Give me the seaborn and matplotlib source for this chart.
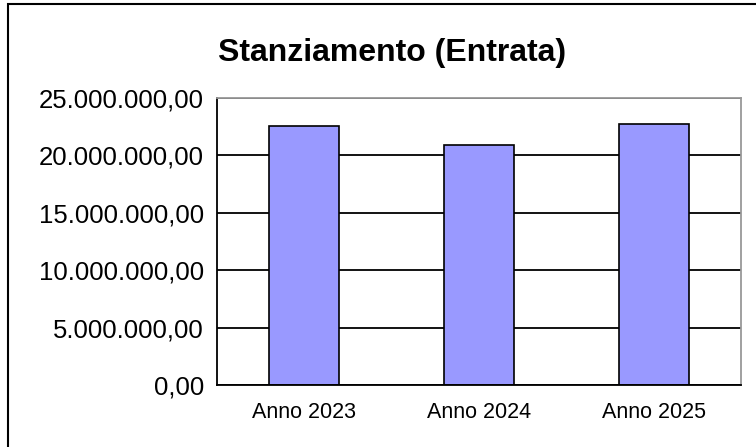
import numpy as np
import pandas as pd
import seaborn as sns
import matplotlib.pyplot as plt
from matplotlib.patches import Rectangle
from matplotlib.ticker import FuncFormatter, FixedLocator

#
# data
#

anni = ["Anno 2023", "Anno 2024", "Anno 2025"]
stanziamento = [22_550_000, 20_870_000, 22_730_000]
y_ticks = [0, 5_000_000, 10_000_000, 15_000_000, 20_000_000, 25_000_000]

df = pd.DataFrame({"anno": anni, "valore": stanziamento})

sns.set_style("white")
plt.rcParams['font.family'] = ['Liberation Sans', 'DejaVu Sans']
plt.rcParams['text.color'] = "black"
plt.rcParams['xtick.color'] = "black"
plt.rcParams['ytick.color'] = "black"
plt.rcParams['axes.labelcolor'] = "black"


def it_format(v, pos=None):
    # 25000000 -> 25.000.000,00
    s = f"{v:,.2f}"
    return s.replace(",", "X").replace(".", ",").replace("X", ".")


fig = plt.figure(figsize=(7.56, 4.47), dpi=100)
ax = fig.add_axes([0.2864, 0.1376, 0.6944, 0.6432])

ax.yaxis.grid(True, color="black", linewidth=1.3)
ax.set_axisbelow(True)

sns.barplot(data=df, x="anno", y="valore", color="#9999FF", saturation=1,
            width=0.40, edgecolor="black", linewidth=1.2, ax=ax)

ax.set_ylim(0, 25_000_000)
ax.set_xlim(-0.5, 2.5)
ax.set_yticks(y_ticks)
ax.yaxis.set_major_formatter(FuncFormatter(it_format))
ax.set_xlabel("")
ax.set_ylabel("")

# x ticks sit between categories, labels centred under bars
ax.xaxis.set_major_locator(FixedLocator([-0.5, 0.5, 1.5, 2.5]))
ax.xaxis.set_major_formatter(plt.NullFormatter())
ax.xaxis.set_minor_locator(FixedLocator([0, 1, 2]))
ax.set_xticklabels(anni, minor=True)
ax.tick_params(axis="x", which="major", direction="out", length=6, width=1.3, color="black")
ax.tick_params(axis="x", which="minor", length=0, labelsize=15.5, pad=12,
               labelcolor="black")
ax.tick_params(axis="y", direction="out", length=5, width=1.3, color="black",
               labelsize=18.5, pad=4, labelcolor="black")

for side in ["left", "bottom"]:
    ax.spines[side].set_color("black")
    ax.spines[side].set_linewidth(1.3)
for side in ["top", "right"]:
    ax.spines[side].set_visible(True)
    ax.spines[side].set_color("#999999")
    ax.spines[side].set_linewidth(1.3)

fig.text(0.518, 0.882, "Stanziamento (Entrata)", ha="center", va="center",
         fontsize=23, fontweight="bold", color="black")

# outer chart border (runs off the right and bottom edge)
fig.patches.append(Rectangle((8 / 756, -0.05), 1.0, 1 - 4 / 447 + 0.05,
                             transform=fig.transFigure, fill=False,
                             edgecolor="black", linewidth=1.5))

fig.savefig("out.png", dpi=100)
